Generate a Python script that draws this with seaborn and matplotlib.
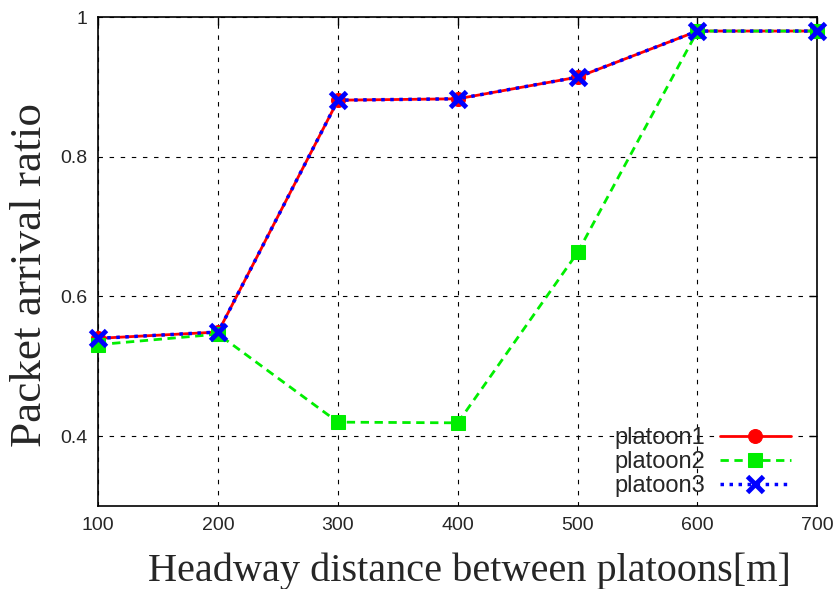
import pandas as pd
import matplotlib
matplotlib.use('Agg')
import matplotlib.pyplot as plt
import seaborn as sns

# Values
distance = [100, 200, 300, 400, 500, 600, 700]
platoon1 = [0.540, 0.549, 0.881, 0.883, 0.914, 0.980, 0.980]
platoon2 = [0.531, 0.546, 0.420, 0.419, 0.663, 0.980, 0.980]
platoon3 = [0.540, 0.549, 0.881, 0.883, 0.914, 0.980, 0.980]

df = pd.DataFrame({'distance': distance * 3,
                   'ratio': platoon1 + platoon2 + platoon3,
                   'series': ['platoon1'] * 7 + ['platoon2'] * 7 + ['platoon3'] * 7})

sns.set_style('white')
plt.rcParams['font.family'] = ['Liberation Sans', 'DejaVu Sans']

fig, ax = plt.subplots(figsize=(8.4, 5.89), dpi=100)
fig.subplots_adjust(left=0.117, right=0.973, top=0.971, bottom=0.141)

styles = {
    'platoon1': dict(color='#ff0000', linestyle='-', marker='o', markersize=10, linewidth=2),
    'platoon2': dict(color='#00ee00', linestyle=(0, (3, 2)), marker='s', markersize=9.5, linewidth=2),
    'platoon3': dict(color='#0000ff', linestyle=(0, (1, 1.6)), marker='x', markersize=12,
                     markeredgewidth=3.5, linewidth=2.5),
}
for name, st in styles.items():
    sub = df[df['series'] == name]
    sns.lineplot(x='distance', y='ratio', data=sub, ax=ax, label=name,
                 markeredgecolor=st['color'], clip_on=False, zorder=3, **st)

ax.set_xlim(100, 700)
ax.set_ylim(0.3, 1.0)
ax.set_xticks(distance)
ax.set_yticks([0.4, 0.6, 0.8, 1.0])
ax.set_yticklabels(['0.4', '0.6', '0.8', '1'])
ax.tick_params(direction='in', length=6, width=1, labelsize=14, top=True, right=True,
               color='black', pad=8)
ax.grid(True, color='black', linestyle=(0, (4, 6)), linewidth=0.8)
for sp in ax.spines.values():
    sp.set_color('black')
    sp.set_linewidth(1.2)
    sp.set_zorder(2.5)

ax.set_xlabel('Headway distance between platoons[m]', family='Liberation Serif', fontsize=29, va='top')
ax.xaxis.set_label_coords(0.516, -0.096)
ax.set_ylabel('Packet arrival ratio', family='Liberation Serif', fontsize=32.5)
ax.yaxis.set_label_coords(-0.067, 0.473)

leg = ax.legend(loc='lower right', frameon=False, fontsize=17, markerfirst=False,
                handlelength=3.0, labelspacing=0.08, borderaxespad=0.0, handletextpad=0.6,
                bbox_to_anchor=(0.976, -0.001))

fig.savefig('out.png', dpi=100)
